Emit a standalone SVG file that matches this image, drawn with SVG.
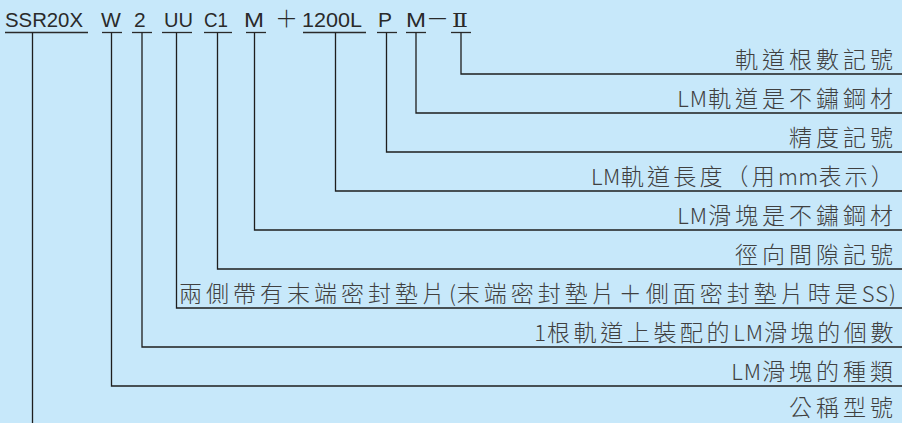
<svg xmlns="http://www.w3.org/2000/svg" width="902" height="423" viewBox="0 0 902 423">
<style>
.code{font-family:"Liberation Sans","Noto Sans CJK TC",sans-serif;font-size:21px;fill:#2a2a2a}
.cjk{font-family:"Noto Sans CJK TC",sans-serif;font-size:23px;fill:#2a2a2a;font-weight:300}
.rom{font-family:"DejaVu Serif","Noto Sans CJK TC",serif;font-size:19px;fill:#2a2a2a}
.lbl{font-family:"Noto Sans CJK TC",sans-serif;font-size:23px;font-weight:300;fill:#404040;letter-spacing:4px;text-anchor:end}
.lat{font-size:22px;letter-spacing:1px}
.ul{stroke:#2a2a2a;stroke-width:1.3;fill:none}
.ln{stroke:#1e1e1e;stroke-width:1.3;fill:none}
</style>
<rect width="902" height="423" fill="#c7e8fa"/>
<g id="code">
<g id="tok-ssr20x"><text class="code" x="5" y="27" textLength="78" lengthAdjust="spacingAndGlyphs">SSR20X</text><line class="ul" x1="5" y1="32.5" x2="88" y2="32.5"/></g>
<g id="tok-w"><text class="code" x="101" y="27">W</text><line class="ul" x1="102" y1="32.5" x2="122" y2="32.5"/></g>
<g id="tok-2"><text class="code" x="134" y="27">2</text><line class="ul" x1="132" y1="32.5" x2="152" y2="32.5"/></g>
<g id="tok-uu"><text class="code" x="164" y="27" textLength="29" lengthAdjust="spacingAndGlyphs">UU</text><line class="ul" x1="162" y1="32.5" x2="192" y2="32.5"/></g>
<g id="tok-c1"><text class="code" x="204" y="27" textLength="24" lengthAdjust="spacingAndGlyphs">C1</text><line class="ul" x1="204" y1="32.5" x2="232" y2="32.5"/></g>
<g id="tok-m1"><text class="code" x="244" y="27" textLength="20" lengthAdjust="spacingAndGlyphs">M</text><line class="ul" x1="246" y1="32.5" x2="266" y2="32.5"/></g>
<g id="tok-plus"><text class="cjk" x="275" y="27">＋</text></g>
<g id="tok-1200l"><text class="code" x="302" y="27" textLength="60" lengthAdjust="spacingAndGlyphs">1200L</text><line class="ul" x1="303" y1="32.5" x2="366" y2="32.5"/></g>
<g id="tok-p"><text class="code" x="378" y="27">P</text><line class="ul" x1="377" y1="32.5" x2="397" y2="32.5"/></g>
<g id="tok-m2"><text class="code" x="406" y="27" textLength="20" lengthAdjust="spacingAndGlyphs">M</text><line class="ul" x1="406" y1="32.5" x2="426" y2="32.5"/></g>
<g id="tok-dash"><text class="cjk" x="426" y="27">－</text></g>
<g id="tok-ii"><text class="rom" x="452" y="27" textLength="16" lengthAdjust="spacingAndGlyphs">Ⅱ</text><line class="ul" x1="451" y1="32.5" x2="471" y2="32.5"/></g>
</g>
<g id="connectors">
<polyline class="ln" points="461,32.5 461,74 902,74"/>
<polyline class="ln" points="416,32.5 416,113 902,113"/>
<polyline class="ln" points="386.5,32.5 386.5,152 902,152"/>
<polyline class="ln" points="335.5,32.5 335.5,191 902,191"/>
<polyline class="ln" points="254.5,32.5 254.5,230 902,230"/>
<polyline class="ln" points="217.5,32.5 217.5,269 902,269"/>
<polyline class="ln" points="176.5,32.5 176.5,308 902,308"/>
<polyline class="ln" points="142,32.5 142,347 902,347"/>
<polyline class="ln" points="111.5,32.5 111.5,386 902,386"/>
<line class="ln" x1="32.5" y1="32.5" x2="32.5" y2="423"/>
</g>
<g id="labels">
<g id="lbl-rail-count"><text class="lbl" x="897" y="68">軌道根數記號</text></g>
<g id="lbl-rail-stainless"><text class="lbl" x="897" y="107"><tspan class="lat">LM</tspan>軌道是不鏽鋼材</text></g>
<g id="lbl-accuracy"><text class="lbl" x="897" y="146">精度記號</text></g>
<g id="lbl-rail-length"><text class="lbl" x="897" y="185" style="letter-spacing:3.2px"><tspan class="lat" style="letter-spacing:0.5px">LM</tspan>軌道長度（用<tspan class="lat" style="letter-spacing:0.3px">mm</tspan>表示）</text></g>
<g id="lbl-block-stainless"><text class="lbl" x="897" y="224"><tspan class="lat">LM</tspan>滑塊是不鏽鋼材</text></g>
<g id="lbl-clearance"><text class="lbl" x="897" y="263">徑向間隙記號</text></g>
<g id="lbl-seal"><text class="lbl" x="897" y="302">兩側帶有末端密封墊片<tspan class="lat">(</tspan>末端密封墊片＋側面密封墊片時是<tspan class="lat">SS)</tspan></text></g>
<g id="lbl-block-count"><text class="lbl" x="897" y="341" style="letter-spacing:3.6px"><tspan class="lat">1</tspan>根軌道上裝配的<tspan class="lat">LM</tspan>滑塊的個數</text></g>
<g id="lbl-block-type"><text class="lbl" x="897" y="380"><tspan class="lat">LM</tspan>滑塊的種類</text></g>
<g id="lbl-model"><text class="lbl" x="897" y="416">公稱型號</text></g>
</g>
</svg>
